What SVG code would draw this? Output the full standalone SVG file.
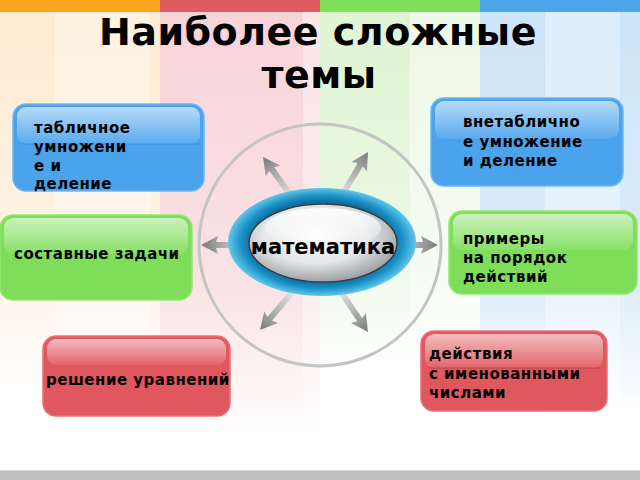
<svg xmlns="http://www.w3.org/2000/svg" width="640" height="480" viewBox="0 0 640 480">
<defs>
<style>
.t{font-family:"DejaVu Sans","Liberation Sans",sans-serif;font-weight:bold;fill:#000}
.lbl{font-size:15px;letter-spacing:0.5px}
.title{font-size:38px;letter-spacing:0.5px}
.hl{stroke:none}
.sep{stroke-width:1}
</style>
<linearGradient id="fadeO" x1="0" y1="0" x2="0" y2="1"><stop offset="0" stop-color="#FDEBD2"/><stop offset="0.55" stop-color="#FEF3E4"/><stop offset="0.85" stop-color="#FFFFFF"/></linearGradient>
<linearGradient id="fadeP" x1="0" y1="0" x2="0" y2="1"><stop offset="0" stop-color="#F8D4D8"/><stop offset="0.6" stop-color="#FAE2E5"/><stop offset="0.95" stop-color="#FFFFFF"/></linearGradient>
<linearGradient id="fadeG" x1="0" y1="0" x2="0" y2="1"><stop offset="0" stop-color="#DFF5D3"/><stop offset="0.5" stop-color="#EAF8E3"/><stop offset="0.8" stop-color="#FFFFFF"/></linearGradient>
<linearGradient id="fadeB" x1="0" y1="0" x2="0" y2="1"><stop offset="0" stop-color="#CCE4F8"/><stop offset="0.6" stop-color="#DDEDFA"/><stop offset="0.9" stop-color="#FFFFFF"/></linearGradient>
<linearGradient id="gloss" x1="0" y1="0" x2="0" y2="1"><stop offset="0" stop-color="#FFFFFF" stop-opacity="0.6"/><stop offset="1" stop-color="#FFFFFF" stop-opacity="0.08"/></linearGradient>
<linearGradient id="arrowG" gradientUnits="userSpaceOnUse" x1="-50" y1="0" x2="0" y2="0"><stop offset="0" stop-color="#E4E4E4"/><stop offset="0.6" stop-color="#A8A8A8"/><stop offset="1" stop-color="#7A7A7A"/></linearGradient>
<radialGradient id="ringG" cx="0.5" cy="0.5" r="0.5"><stop offset="0.75" stop-color="#0E6E9E"/><stop offset="0.86" stop-color="#1A92C8"/><stop offset="1" stop-color="#62C6EA"/></radialGradient>
<radialGradient id="silver" cx="0.45" cy="0.4" r="0.6"><stop offset="0" stop-color="#FFFFFF"/><stop offset="0.6" stop-color="#E4E6E8"/><stop offset="1" stop-color="#9EA2A6"/></radialGradient>
<linearGradient id="shine" x1="0" y1="0" x2="0" y2="1"><stop offset="0" stop-color="#FFFFFF" stop-opacity="0.9"/><stop offset="1" stop-color="#FFFFFF" stop-opacity="0"/></linearGradient>
<path id="arr" d="M-52,-3 L-15,-3 L-17,-9 L0,0 L-17,9 L-15,3 L-52,3 Z" fill="url(#arrowG)"/>
</defs>

<!-- background -->
<rect x="0" y="0" width="640" height="480" fill="#FFFFFF"/>
<rect x="0" y="12" width="160" height="450" fill="url(#fadeO)"/>
<rect x="160" y="12" width="160" height="450" fill="url(#fadeP)"/>
<rect x="320" y="12" width="160" height="450" fill="url(#fadeG)"/>
<rect x="480" y="12" width="160" height="450" fill="url(#fadeB)"/>
<rect x="55" y="12" width="95" height="450" fill="#FFFFFF" opacity="0.35"/>
<rect x="303" y="12" width="17" height="450" fill="#FFFFFF" opacity="0.4"/>
<rect x="410" y="12" width="70" height="450" fill="#FFFFFF" opacity="0.45"/>
<rect x="545" y="12" width="75" height="450" fill="#FFFFFF" opacity="0.35"/>
<rect x="0" y="0" width="160" height="12" fill="#F9A61E"/>
<rect x="160" y="0" width="160" height="12" fill="#E15A60"/>
<rect x="320" y="0" width="160" height="12" fill="#80E05A"/>
<rect x="480" y="0" width="160" height="12" fill="#4CA6EC"/>
<rect x="0" y="471" width="640" height="9" fill="#C0C0C0"/>
<rect x="0" y="470" width="640" height="1" fill="#DADADA"/>

<!-- title -->
<text class="t title" x="318" y="45" text-anchor="middle">Наиболее сложные</text>
<text class="t title" x="319" y="88" text-anchor="middle">темы</text>

<!-- ring -->
<circle cx="320" cy="245" r="121" fill="none" stroke="#C4C4C4" stroke-width="3"/>

<!-- connectors -->
<g id="connectors">
<use href="#arr" transform="translate(263,157) rotate(-126)"/>
<use href="#arr" transform="translate(368,152) rotate(-58.8)"/>
<use href="#arr" transform="translate(201,245) rotate(180)"/>
<use href="#arr" transform="translate(438,245)"/>
<use href="#arr" transform="translate(260,330) rotate(130.6)"/>
<use href="#arr" transform="translate(368,332) rotate(55.9)"/>
</g>

<!-- center -->
<g id="center">
<ellipse cx="322" cy="242" rx="94" ry="54" fill="url(#ringG)"/>
<ellipse cx="323" cy="243" rx="74" ry="39" fill="url(#silver)" stroke="#3A3E42" stroke-width="1.5"/>
<ellipse cx="323" cy="228" rx="58" ry="20" fill="url(#shine)"/>
<text class="t" x="323" y="254" font-size="21" text-anchor="middle">математика</text>
</g>

<!-- nodes -->
<g id="n1">
<rect x="13" y="104" width="191" height="87" rx="13" fill="#4BA3EC" stroke="#6DB8F2" stroke-width="1.5"/>
<rect x="17" y="107" width="183" height="37" rx="9" fill="url(#gloss)"/>
<line x1="22" y1="144" x2="200" y2="144" stroke="#3A78B0" stroke-opacity="0.5"/>
<text class="t lbl" x="34" y="133">табличное</text>
<text class="t lbl" x="34" y="152">умножени</text>
<text class="t lbl" x="34" y="171">е и</text>
<text class="t lbl" x="34" y="189">деление</text>
</g>

<g id="n2">
<rect x="0" y="215" width="192" height="85" rx="13" fill="#7EDE5A" stroke="#92E672" stroke-width="1.5"/>
<rect x="4" y="218" width="184" height="36" rx="9" fill="url(#gloss)"/>
<text class="t lbl" x="14" y="259">составные задачи</text>
</g>

<g id="n3">
<rect x="431" y="98" width="192" height="88" rx="13" fill="#4BA3EC" stroke="#6DB8F2" stroke-width="1.5"/>
<rect x="435" y="101" width="184" height="38" rx="9" fill="url(#gloss)"/>
<text class="t lbl" x="463" y="127">внетаблично</text>
<text class="t lbl" x="463" y="147">е умножение</text>
<text class="t lbl" x="463" y="166">и деление</text>
</g>

<g id="n4">
<rect x="449" y="211" width="188" height="83" rx="13" fill="#7EDE5A" stroke="#92E672" stroke-width="1.5"/>
<rect x="453" y="214" width="180" height="36" rx="9" fill="url(#gloss)"/>
<text class="t lbl" x="463" y="244">примеры</text>
<text class="t lbl" x="463" y="263">на порядок</text>
<text class="t lbl" x="463" y="282">действий</text>
</g>

<g id="n5">
<rect x="43" y="336" width="187" height="80" rx="13" fill="#E0585E" stroke="#E87076" stroke-width="1.5"/>
<rect x="47" y="339" width="179" height="26" rx="9" fill="url(#gloss)"/>
<text class="t lbl" x="46" y="385">решение уравнений</text>
</g>

<g id="n6">
<rect x="421" y="331" width="186" height="80" rx="13" fill="#E0585E" stroke="#E87076" stroke-width="1.5"/>
<rect x="425" y="334" width="178" height="34" rx="9" fill="url(#gloss)"/>
<line x1="428" y1="368" x2="600" y2="368" stroke="#8A3035" stroke-opacity="0.5"/>
<text class="t lbl" x="429" y="359">действия</text>
<text class="t lbl" x="429" y="378.5">с именованными</text>
<text class="t lbl" x="429" y="397.5">числами</text>
</g>
</svg>
